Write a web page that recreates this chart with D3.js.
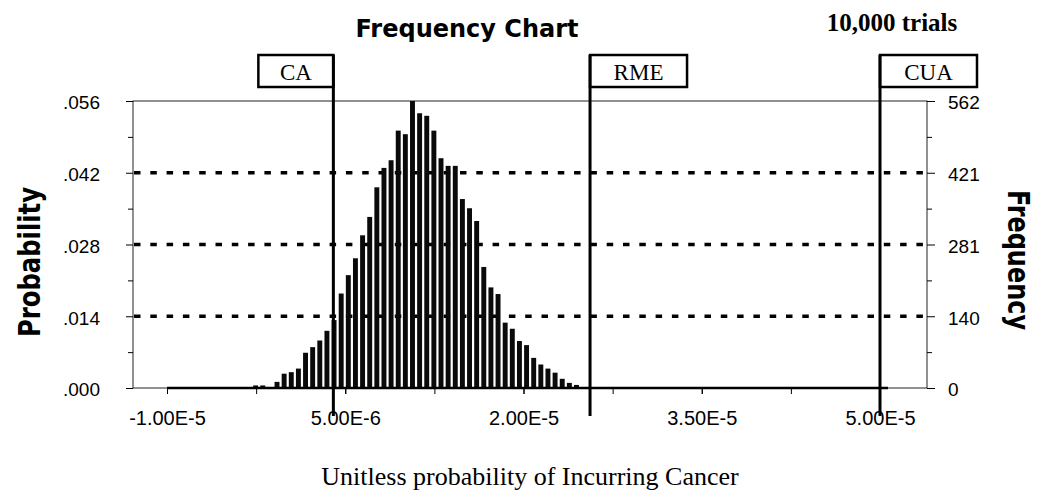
<!DOCTYPE html>
<html>
<head>
<meta charset="utf-8">
<script src="https://cdn.jsdelivr.net/npm/d3@7"></script>
<style>
  body { margin: 0; background: #fff; }
  svg { display: block; }
  .tick text { font-family: 'Liberation Sans', Arial, sans-serif; fill: #000; }
  .tick line { stroke: #000; }
</style>
</head>
<body>
<svg id="chart" width="1040" height="493"></svg>
<script>
// Crystal Ball style frequency chart, 100 groups of 6.0E-7 starting at -1.00E-5
const trials = 10000;
const binStart = -1.0e-5;
const binWidth = 6.0e-7;
const firstBin = 12; // first group with any hits
const counts = [5, 5, 0, 12, 28, 31, 38, 69, 80, 93, 112, 133, 185, 221, 254, 299, 335, 393, 431, 446,
    504, 497, 562, 538, 533, 504, 450, 435, 435, 370, 352, 327, 237, 197, 184, 128, 116, 92, 84, 59,
    46, 38, 30, 18, 10, 6];

const xTickValues = [-1.0e-5, 5.0e-6, 2.0e-5, 3.5e-5, 5.0e-5];
const xTickLabels = ['-1.00E-5', '5.00E-6', '2.00E-5', '3.50E-5', '5.00E-5'];
const freqTickValues = [0, 140.5, 281, 421.5, 562];
const freqTickLabels = ['0', '140', '281', '421', '562'];
const probTickLabels = ['.000', '.014', '.028', '.042', '.056'];

const markerNames = ['CA', 'RME', 'CUA'];
const markerValues = [4.0e-6, 2.56e-5, 5.0e-5];

const plotLeft = 133, plotRight = 927, plotTop = 101, plotBottom = 388;

const svg = d3.select('#chart');

const x = d3.scaleLinear().domain([-1.0e-5, 5.0e-5]).range([167, 880]);
const y = d3.scaleLinear().domain([0, 562]).range([plotBottom, plotTop]);

// dashed grid behind the bars
svg.append('g')
    .selectAll('line')
    .data(freqTickValues.slice(1, -1))
    .join('line')
    .attr('x1', plotLeft + 1)
    .attr('x2', plotRight)
    .attr('y1', d => y(d))
    .attr('y2', d => y(d))
    .attr('stroke', '#000')
    .attr('stroke-width', 3.5)
    .attr('stroke-dasharray', '6.5,9.8');

// frame
svg.append('rect')
    .attr('x', plotLeft)
    .attr('y', plotTop)
    .attr('width', plotRight - plotLeft)
    .attr('height', plotBottom - plotTop)
    .attr('fill', 'none')
    .attr('stroke', '#222')
    .attr('stroke-width', 1);

// bars
const bins = counts.map((c, i) => ({ lo: binStart + (firstBin + i) * binWidth, count: c }));
const barW = x(binWidth) - x(0) - 2.2;

svg.append('g')
    .selectAll('rect')
    .data(bins.filter(d => d.count > 0))
    .join('rect')
    .attr('x', d => x(d.lo) + 0.6)
    .attr('width', barW)
    .attr('y', d => y(d.count))
    .attr('height', d => plotBottom - y(d.count))
    .attr('fill', '#0a0a0a');

// empty groups show as a heavy base line
svg.append('line')
    .attr('x1', x(binStart))
    .attr('x2', x(5.0e-5) + 8)
    .attr('y1', plotBottom)
    .attr('y2', plotBottom)
    .attr('stroke', '#000')
    .attr('stroke-width', 2.5);

// y axes
const minorFreq = d3.pairs(freqTickValues).map(p => (p[0] + p[1]) / 2);

const leftAxis = svg.append('g')
    .attr('transform', `translate(${plotLeft},0)`)
    .call(d3.axisLeft(y).tickValues(freqTickValues).tickFormat((d, i) => probTickLabels[i]).tickSize(7).tickPadding(26));
leftAxis.append('g')
    .call(d3.axisLeft(y).tickValues(minorFreq).tickFormat('').tickSize(5));

const rightAxis = svg.append('g')
    .attr('transform', `translate(${plotRight},0)`)
    .call(d3.axisRight(y).tickValues(freqTickValues).tickFormat((d, i) => freqTickLabels[i]).tickSize(8).tickPadding(13));
rightAxis.append('g')
    .call(d3.axisRight(y).tickValues(minorFreq).tickFormat('').tickSize(5));

svg.selectAll('.domain').remove();
leftAxis.selectAll('text').attr('font-size', 19).attr('dy', '0.42em');
rightAxis.selectAll('text').attr('font-size', 19).attr('dy', '0.42em');

// x axis
const xMinor = d3.range(-1.0e-5, 5.01e-5, 7.5e-6);
const bottomAxis = svg.append('g')
    .attr('transform', `translate(0,${plotBottom})`)
    .call(d3.axisBottom(x).tickValues(xMinor).tickFormat('').tickSize(6));
bottomAxis.append('g')
    .call(d3.axisBottom(x).tickValues(xTickValues).tickFormat((d, i) => xTickLabels[i]).tickSize(6).tickPadding(17));
bottomAxis.selectAll('.domain').remove();
bottomAxis.selectAll('text').attr('font-size', 20);

// assumption markers
const markers = svg.append('g')
    .selectAll('g')
    .data(markerNames.map((name, i) => ({ name, value: markerValues[i], boxLeft: i === 0 })))
    .join('g')
    .attr('transform', d => `translate(${x(d.value)},0)`);

markers.append('rect')
    .attr('x', d => d.boxLeft ? -75 : 0)
    .attr('y', 55)
    .attr('width', d => d.boxLeft ? 75 : 97)
    .attr('height', 32)
    .attr('fill', '#fff')
    .attr('stroke', '#000')
    .attr('stroke-width', 2.5);

markers.append('text')
    .attr('x', d => d.boxLeft ? -37.5 : 48.5)
    .attr('y', 80)
    .attr('text-anchor', 'middle')
    .attr('font-family', "'Liberation Serif', 'Times New Roman', serif")
    .attr('font-size', 23)
    .text(d => d.name);

markers.append('line')
    .attr('y1', 55)
    .attr('y2', 416)
    .attr('stroke', '#000')
    .attr('stroke-width', 3);

// titles
svg.append('text')
    .attr('x', 467)
    .attr('y', 37)
    .attr('text-anchor', 'middle')
    .attr('font-family', "'DejaVu Sans', sans-serif")
    .attr('font-weight', 'bold')
    .attr('font-size', 24)
    .text('Frequency Chart');

svg.append('text')
    .attr('x', 892)
    .attr('y', 31)
    .attr('text-anchor', 'middle')
    .attr('font-family', "'Liberation Serif', 'Times New Roman', serif")
    .attr('font-weight', 'bold')
    .attr('font-size', 25)
    .text(d3.format(',')(trials) + ' trials');

svg.append('text')
    .attr('x', 530)
    .attr('y', 485)
    .attr('text-anchor', 'middle')
    .attr('font-family', "'Liberation Serif', 'Times New Roman', serif")
    .attr('font-size', 26)
    .text('Unitless probability of Incurring Cancer');

svg.append('text')
    .attr('transform', 'translate(40,262) rotate(-90)')
    .attr('text-anchor', 'middle')
    .attr('font-family', "'DejaVu Sans Condensed', 'Liberation Sans Narrow', sans-serif")
    .attr('font-weight', 'bold')
    .attr('font-size', 31)
    .attr('textLength', 150)
    .attr('lengthAdjust', 'spacingAndGlyphs')
    .text('Probability');

svg.append('text')
    .attr('transform', 'translate(1008,260) rotate(90)')
    .attr('text-anchor', 'middle')
    .attr('font-family', "'DejaVu Sans Condensed', 'Liberation Sans Narrow', sans-serif")
    .attr('font-weight', 'bold')
    .attr('font-size', 30)
    .attr('textLength', 140)
    .attr('lengthAdjust', 'spacingAndGlyphs')
    .text('Frequency');
</script>
</body>
</html>
